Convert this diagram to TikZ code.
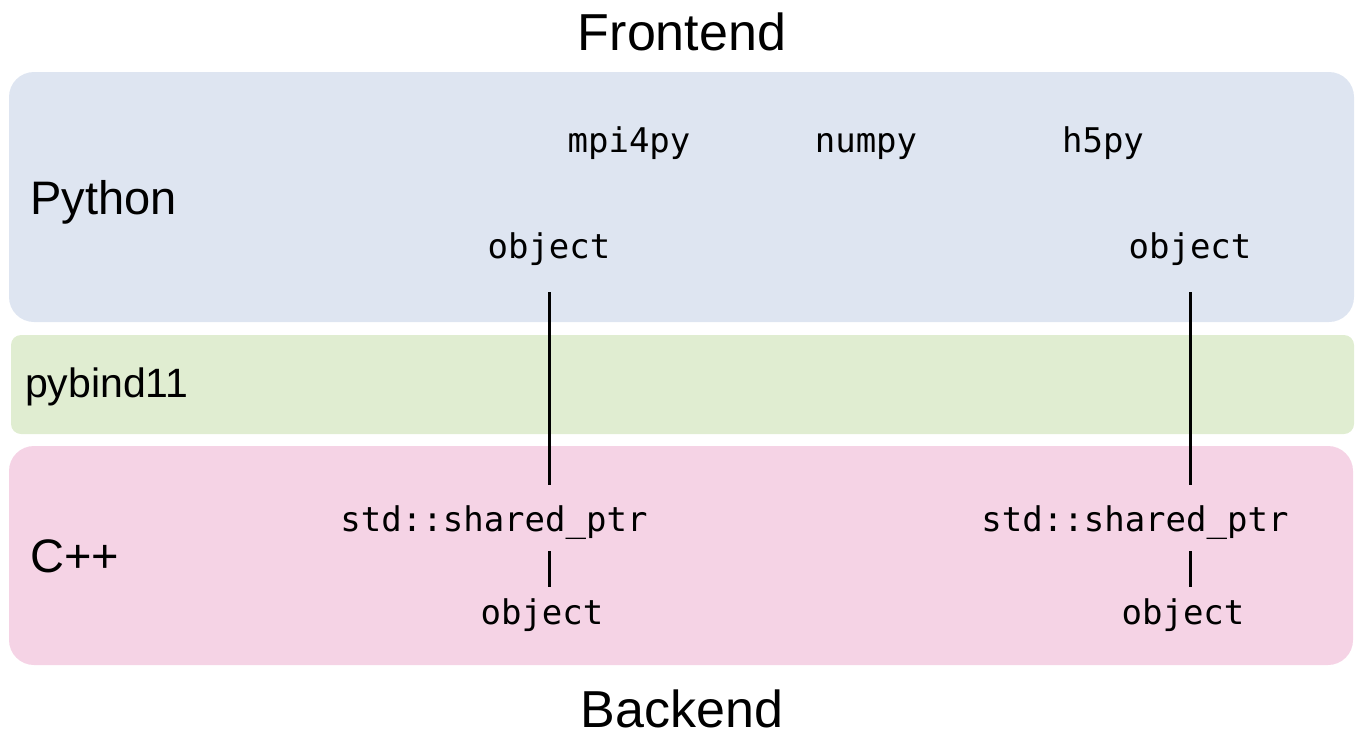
\documentclass[tikz,border=0pt]{standalone}
\usepackage{fontspec}
\setmainfont{Liberation Sans}
\newfontfamily\codefont{DejaVu Sans Mono}
\definecolor{pyblue}{HTML}{DEE5F1}
\definecolor{bindgreen}{HTML}{E0EDD1}
\definecolor{cpppink}{HTML}{F5D3E5}
\tikzset{
  title/.style={anchor=base, inner sep=0pt, font=\fontsize{52}{60}\selectfont},
  side/.style={anchor=base west, inner sep=0pt, font=\fontsize{47}{56}\selectfont},
  code/.style={anchor=base, inner sep=0pt, font=\codefont\fontsize{34}{40}\selectfont},
  link/.style={line width=3pt}
}
\begin{document}
\begin{tikzpicture}[x=1pt,y=-1pt]
\useasboundingbox (0,0) rectangle (1355,736);
% layers
\fill[pyblue, rounded corners=25pt] (9,72) rectangle (1354,322);
\fill[bindgreen, rounded corners=10pt] (11,335) rectangle (1354,434);
\fill[cpppink, rounded corners=25pt] (9,446) rectangle (1353,665);
% titles
\node[title] (front) at (682,50) {Frontend};
\node[title] (back) at (682,727) {Backend};
\node[side] (py) at (30,214) {Python};
\node[side, font=\fontsize{41}{48}\selectfont] (pb) at (25,397) {pybind11};
\node[side] (cpp) at (30,572) {C++};
% python modules
\node[code] (mpi) at (629,152) {mpi4py};
\node[code] (np) at (866,152) {numpy};
\node[code] (h5) at (1103,152) {h5py};
% python objects
\node[code] (objL) at (549,258) {object};
\node[code] (objR) at (1190,258) {object};
% c++ side
\node[code] (spL) at (494,531) {std::shared\_ptr};
\node[code] (spR) at (1135,531) {std::shared\_ptr};
\node[code] (cobjL) at (542,624) {object};
\node[code] (cobjR) at (1183,624) {object};
% connectors
\draw[link] ([yshift=-27pt]objL.south) -- ([yshift=20pt]objL.south |- spL.north);
\draw[link] ([yshift=-27pt]objR.south) -- ([yshift=20pt]objR.south |- spR.north);
\draw[link] ([yshift=-12pt]objL.south |- spL.south) -- ([yshift=11pt]objL.south |- cobjL.north);
\draw[link] ([yshift=-12pt]objR.south |- spR.south) -- ([yshift=11pt]objR.south |- cobjR.north);
\end{tikzpicture}
\end{document}
